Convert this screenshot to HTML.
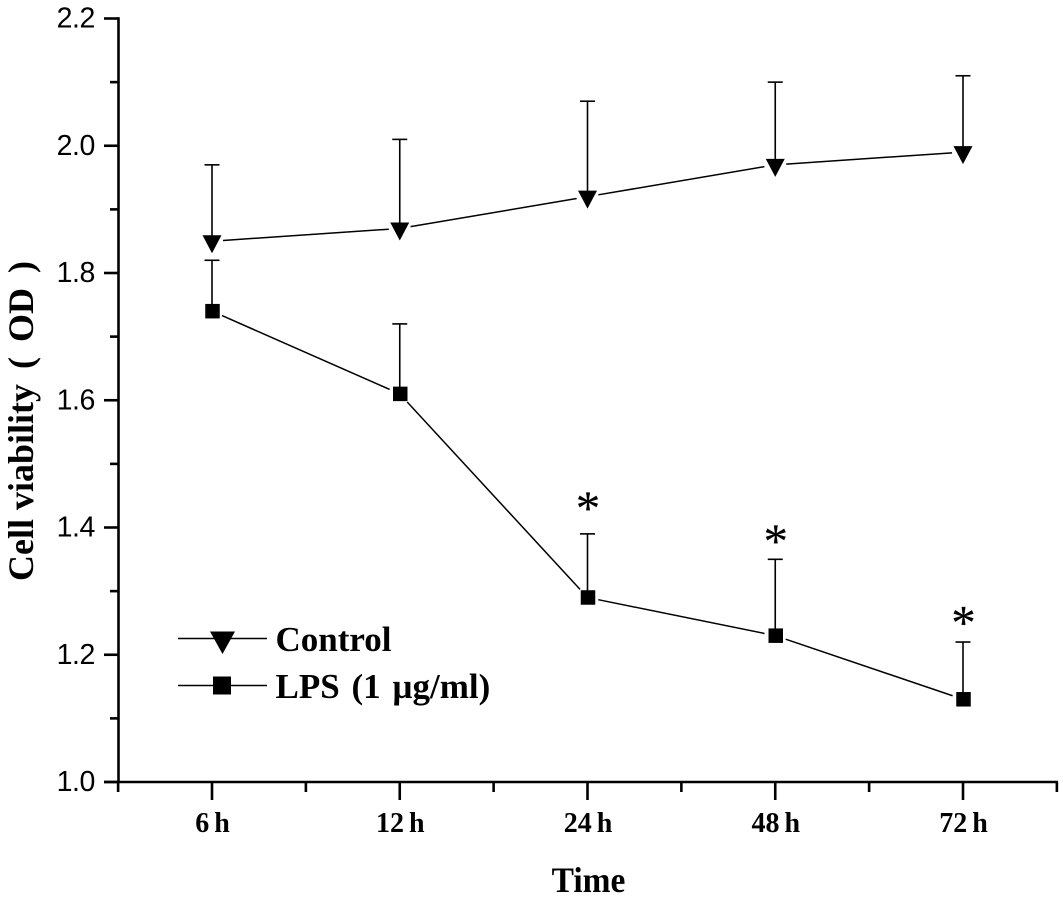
<!DOCTYPE html>
<html lang="en">
<head>
<meta charset="utf-8">
<title>Cell viability over time</title>
<style>
html,body{margin:0;padding:0;background:#fff;}
svg{display:block;}
text{fill:#000;}
.sans{font-family:"Liberation Sans",sans-serif;}
.serif{font-family:"Liberation Serif",serif;font-weight:bold;}
.star{font-family:"Liberation Serif",serif;font-weight:normal;stroke:#000;stroke-width:0.2px;}
</style>
</head>
<body>
<svg id="chart" xmlns="http://www.w3.org/2000/svg" width="1063" height="898" viewBox="0 0 1063 898"></svg>
<script>
const categories = ['6 h', '12 h', '24 h', '48 h', '72 h'];
const yTickLabels = ['1.0', '1.2', '1.4', '1.6', '1.8', '2.0', '2.2'];
const yMinorTicks = [1.1, 1.3, 1.5, 1.7, 1.9, 2.1];
const controlValues = [1.85, 1.87, 1.92, 1.97, 1.99];
const controlErrorTops = [1.97, 2.01, 2.07, 2.10, 2.11];
const lpsValues = [1.74, 1.61, 1.29, 1.23, 1.13];
const lpsErrorTops = [1.82, 1.72, 1.39, 1.35, 1.22];
const starCategories = ['24 h', '48 h', '72 h'];
const starLevels = [1.44, 1.388, 1.26];

const NS = 'http://www.w3.org/2000/svg';
const svg = document.getElementById('chart');

function yScale(v) { return 782 - (v - 1.0) * (782 - 18.5) / 1.2; }
function xScale(i) { return 212 + i * 187.75; }

function make(tag, attrs, parent) {
  const el = document.createElementNS(NS, tag);
  for (const k in attrs) el.setAttribute(k, attrs[k]);
  (parent || svg).appendChild(el);
  return el;
}

/* axes */
const axisGroup = make('g', {stroke: '#000', 'stroke-width': 2.6, fill: 'none'});



const yAxisLine = make('line', {x1: 118.5, x2: 118.5, y1: 17.2, y2: 783}, axisGroup);



const xAxisLine = make('line', {x1: 104, x2: 1058, y1: 782, y2: 782}, axisGroup);



yTickLabels.forEach(function (label) {
  const v = parseFloat(label);
  const tick = make('line', {x1: 104, x2: 118.5, y1: yScale(v), y2: yScale(v)}, axisGroup);
  
  
  const t = make('text', {x: 95, y: yScale(v) + 9, 'text-anchor': 'end', 'font-size': 28.5, 'letter-spacing': -0.4, stroke: 'none', class: 'sans'});
  t.textContent = label;
  
  
});

yMinorTicks.forEach(function (v) {
  const tick = make('line', {x1: 110, x2: 118.5, y1: yScale(v), y2: yScale(v)}, axisGroup);
  
  
});

categories.forEach(function (label, i) {
  const x = xScale(i);
  const tick = make('line', {x1: x, x2: x, y1: 782, y2: 800}, axisGroup);
  
  
  const t = make('text', {x: x + 0.5, y: 832, 'text-anchor': 'middle', 'font-size': 28, 'word-spacing': -2, stroke: 'none', class: 'serif'});
  t.textContent = label;
  
  
});

for (let i = -0.5; i <= categories.length - 0.5; i += 1) {
  const tick = make('line', {x1: xScale(i), x2: xScale(i), y1: 782, y2: 792}, axisGroup);
  
  
}

/* series */
function drawTriangle(x, y, w, up, down, parent) {
  return make('polygon', {points: (x - w / 2) + ',' + (y - up) + ' ' + (x + w / 2) + ',' + (y - up) + ' ' + x + ',' + (y + down), fill: '#000'}, parent);
}
function drawSquare(x, y, s, parent) {
  return make('rect', {x: x - s / 2, y: y - s / 2, width: s, height: s, fill: '#000'}, parent);
}

function drawSeries(name, values, tops, gap, marker) {
  const g = make('g', {});
  
  
  values.forEach(function (v, i) {
    const x = xScale(i), y = yScale(v), yt = yScale(tops[i]);
    const stem = make('line', {x1: x, x2: x, y1: y, y2: yt, stroke: '#000', 'stroke-width': 1.6}, g);
    
    
    const cap = make('line', {x1: x - 7.5, x2: x + 7.5, y1: yt, y2: yt, stroke: '#000', 'stroke-width': 1.6}, g);
    
    
    if (i < values.length - 1) {
      const x2 = xScale(i + 1), y2 = yScale(values[i + 1]);
      const len = Math.hypot(x2 - x, y2 - y);
      const dx = (x2 - x) / len, dy = (y2 - y) / len;
      const seg = make('line', {x1: x + dx * gap, y1: y + dy * gap, x2: x2 - dx * gap, y2: y2 - dy * gap, stroke: '#000', 'stroke-width': 1.5}, g);
      
      
    }
    const m = marker(x, y, g);
    
    
  });
}

drawSeries('control', controlValues, controlErrorTops, 11, function (x, y, g) {
  return drawTriangle(x, y, 19, 6, 12, g);
});
drawSeries('lps', lpsValues, lpsErrorTops, 11, function (x, y, g) {
  return drawSquare(x + 0.5, y, 14.5, g);
});

/* significance stars */
starCategories.forEach(function (cat, i) {
  const x = xScale(categories.indexOf(cat));
  const t = make('text', {x: x + 0.5, y: yScale(starLevels[i]) + 22.5, 'text-anchor': 'middle', 'font-size': 49, class: 'star'});
  t.textContent = '*';
  
  
});

/* legend */
const legend = make('g', {});



const legendLine1 = make('line', {x1: 178, x2: 267, y1: 638.5, y2: 638.5, stroke: '#000', 'stroke-width': 1.5}, legend);


const legendMarker1 = drawTriangle(222.5, 638.5, 25, 7, 15.5, legend);


const legendText1 = make('text', {x: 275.5, y: 651, 'font-size': 35, class: 'serif'}, legend);
legendText1.textContent = 'Control';



const legendLine2 = make('line', {x1: 178, x2: 267, y1: 685.5, y2: 685.5, stroke: '#000', 'stroke-width': 1.5}, legend);


const legendMarker2 = drawSquare(222, 685.5, 18, legend);


const legendText2 = make('text', {x: 275.5, y: 698, 'font-size': 35, 'word-spacing': 3, class: 'serif'}, legend);
legendText2.textContent = 'LPS (1 \u00b5g/ml)';



/* axis titles */
const xTitle = make('text', {x: 0, y: 0, 'text-anchor': 'middle', 'font-size': 36, class: 'serif', transform: 'translate(588.5 892) scale(0.93 1)'});
xTitle.textContent = 'Time';



const yTitle = make('text', {x: 0, y: 0, 'text-anchor': 'middle', 'font-size': 36, class: 'serif', transform: 'translate(33 421) rotate(-90)'});


const yTitleMain = make('tspan', {}, yTitle);
yTitleMain.textContent = 'Cell viability';
const yTitleUnit = make('tspan', {'word-spacing': 6}, yTitle);
yTitleUnit.textContent = ' ( OD )';
</script>
</body>
</html>
